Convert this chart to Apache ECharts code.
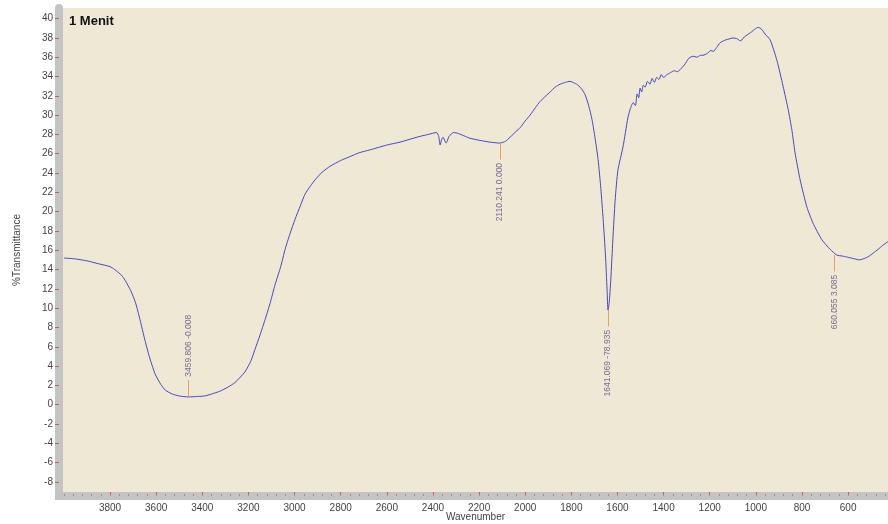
<!DOCTYPE html>
<html>
<head>
<meta charset="utf-8">
<script src="https://cdn.jsdelivr.net/npm/echarts@6/dist/echarts.min.js"></script>
<style>
html, body { margin: 0; padding: 0; background: #fff; }
#chart { width: 888px; height: 524px; }
</style>
</head>
<body>
<div id="chart"></div>
<script>
// spectrum: wavenumber (cm-1) and %T
var wavenumber = [
  4000, 3950, 3900, 3850, 3800, 3780, 3750, 3735, 3710, 3690, 3670, 3650, 3630, 3605, 3580, 3560,
  3530, 3500, 3460, 3420, 3390, 3360, 3323, 3290, 3258, 3215, 3190, 3172, 3150, 3128, 3105, 3085,
  3060, 3041, 3020, 2998, 2975, 2955, 2930, 2911, 2880, 2846, 2800, 2760, 2720, 2673, 2600, 2543,
  2500, 2456, 2420, 2385, 2375, 2369, 2362, 2356, 2348, 2343, 2330, 2310, 2290, 2260, 2239, 2200,
  2152, 2110, 2085, 2066, 2040, 2022, 2000, 1979, 1955, 1936, 1910, 1892, 1870, 1849, 1825, 1806,
  1785, 1771, 1755, 1740, 1725, 1710, 1697, 1684, 1672, 1662, 1652, 1645, 1641, 1636, 1629, 1620,
  1610, 1598, 1576, 1555, 1545, 1532, 1522, 1515, 1508, 1502, 1495, 1488, 1480, 1470, 1459, 1450,
  1440, 1430, 1420, 1410, 1400, 1385, 1370, 1355, 1340, 1329, 1310, 1290, 1272, 1255, 1240, 1229,
  1210, 1195, 1185, 1170, 1155, 1130, 1115, 1099, 1080, 1068, 1060, 1050, 1038, 1020, 1005, 990,
  975, 960, 938, 909, 882, 860, 844, 830, 808, 779, 752, 714, 678, 649, 625, 606,
  588, 570, 552, 535, 515, 491, 470, 450, 427
];
var transmittance = [
  15.2, 15.1, 14.9, 14.6, 14.3, 14.0, 13.4, 12.9, 11.8, 10.6, 8.8, 6.8, 5.0, 3.2, 2.1, 1.5,
  1.1, 0.9, 0.8, 0.85, 0.9, 1.1, 1.4, 1.8, 2.3, 3.4, 4.5, 5.7, 7.2, 8.8, 10.6, 12.4,
  14.3, 16.1, 17.7, 19.2, 20.6, 21.8, 22.7, 23.3, 24.1, 24.7, 25.3, 25.7, 26.1, 26.4, 26.9, 27.2,
  27.5, 27.8, 28.0, 28.2, 27.8, 26.9, 27.5, 27.7, 27.3, 27.1, 27.8, 28.2, 28.1, 27.8, 27.6, 27.4,
  27.2, 27.1, 27.3, 27.7, 28.3, 28.7, 29.4, 30.0, 30.8, 31.4, 32.0, 32.4, 32.9, 33.2, 33.4, 33.5,
  33.3, 33.1, 32.7, 32.1, 31.0, 29.5, 27.6, 25.4, 22.4, 19.2, 15.5, 11.9, 9.8, 10.5, 12.9, 17.1,
  21.2, 24.3, 26.7, 29.7, 30.6, 31.3, 31.0, 32.2, 31.8, 32.8, 32.4, 33.1, 32.9, 33.5, 33.2, 33.8,
  33.4, 33.9, 33.7, 34.2, 33.9, 34.2, 34.4, 34.6, 34.5, 34.7, 35.2, 35.9, 36.1, 36.0, 36.2, 36.2,
  36.4, 36.7, 36.6, 37.0, 37.5, 37.8, 37.9, 38.0, 37.9, 37.7, 37.8, 38.1, 38.3, 38.6, 38.9, 39.1,
  38.9, 38.4, 37.8, 35.7, 33.0, 30.6, 28.5, 26.1, 23.3, 20.5, 18.8, 17.1, 16.1, 15.5, 15.4, 15.3,
  15.2, 15.1, 15.0, 15.1, 15.3, 15.7, 16.1, 16.5, 16.9
];

var xTicks = [3800, 3600, 3400, 3200, 3000, 2800, 2600, 2400, 2200, 2000, 1800, 1600, 1400, 1200, 1000, 800, 600];
var yTicks = [-8, -6, -4, -2, 0, 2, 4, 6, 8, 10, 12, 14, 16, 18, 20, 22, 24, 26, 28, 30, 32, 34, 36, 38, 40];
var xMinor = [];
for (var t = 440; t <= 4000; t += 40) xMinor.push(t);

// peak picks
var peakWn = [3459.806, 2110.241, 1641.069, 660.055];
var peakT = [0.85, 27.1, 9.8, 15.5];
var peakText = ['3459.806 -0.008', '2110.241 0.000', '1641.069 -78.935', '660.055 3.085'];
var peakUp = [true, false, false, false];

var tickLen = 1.7;
var font = 'Liberation Sans';

var lineData = wavenumber.map(function (w, i) { return [w, transmittance[i]]; });

var peakLines = peakWn.map(function (w, i) {
  var end = peakUp[i] ? peakT[i] + tickLen : peakT[i] - tickLen;
  return [{ coord: [w, peakT[i]] }, { coord: [w, end] }];
});

var peakLabels = peakWn.map(function (w, i) {
  var end = peakUp[i] ? peakT[i] + tickLen + 0.35 : peakT[i] - tickLen - 0.35;
  return {
    value: [w, end],
    name: peakText[i],
    label: { align: peakUp[i] ? 'left' : 'right' }
  };
});

function plain(v) { return String(v); }

var myChart = echarts.init(document.getElementById('chart'));

var option = {
  animation: false,
  backgroundColor: '#ffffff',
  title: {
    text: '1 Menit',
    left: 64,
    top: 10,
    textStyle: { fontFamily: font, fontSize: 13, fontWeight: 'bold', color: '#111' }
  },
  grid: {
    left: 63, right: 0, top: 8, bottom: 32,
    show: true,
    backgroundColor: '#EEE8D5',
    borderWidth: 0,
    containLabel: false,
    outerBoundsMode: 'none'
  },
  xAxis: [
    {
      type: 'value',
      min: 427,
      max: 4004,
      inverse: true,
      position: 'bottom',
      offset: 4,
      axisLine: { show: true, onZero: false, lineStyle: { color: '#C4C4C4', width: 8 } },
      axisTick: { show: true, inside: true, length: 4, customValues: xTicks, lineStyle: { color: '#C85A5A' } },
      axisLabel: { customValues: xTicks, margin: 7, fontSize: 10, color: '#444', fontFamily: font, formatter: plain },
      splitLine: { show: false },
      name: 'Wavenumber',
      nameLocation: 'middle',
      nameGap: 16,
      nameMoveOverlap: false,
      nameTextStyle: { fontSize: 10, color: '#444', fontFamily: font }
    },
    {
      type: 'value',
      min: 427,
      max: 4004,
      inverse: true,
      position: 'bottom',
      offset: 4,
      axisLine: { show: false, onZero: false },
      axisTick: { show: true, inside: true, length: 2, customValues: xMinor, lineStyle: { color: '#C88080' } },
      axisLabel: { show: false },
      splitLine: { show: false }
    }
  ],
  yAxis: {
    type: 'value',
    min: -9.05,
    max: 41.1,
    offset: 4,
    axisLine: { show: true, onZero: false, lineStyle: { color: '#C4C4C4', width: 8 } },
    axisTick: { show: true, length: 4, customValues: yTicks, lineStyle: { color: '#C85A5A' } },
    axisLabel: { customValues: yTicks, margin: 6, fontSize: 10, color: '#444', fontFamily: font, formatter: plain },
    splitLine: { show: false },
    name: '%Transmittance',
    nameLocation: 'middle',
    nameGap: 37,
    nameMoveOverlap: false,
    nameTextStyle: { fontSize: 10, color: '#444', fontFamily: font }
  },
  graphic: [
    { type: 'rect', shape: { x: 55, y: 492, width: 8, height: 8 }, style: { fill: '#C4C4C4' }, silent: true }
  ],
  series: [
    {
      type: 'line',
      data: lineData,
      showSymbol: false,
      smooth: 0.2,
      lineStyle: { color: '#4848C4', width: 1 },
      markLine: {
        silent: true,
        symbol: ['none', 'none'],
        label: { show: false },
        lineStyle: { color: '#E8A060', width: 1, type: 'solid' },
        data: peakLines
      },
      z: 3
    },
    {
      type: 'scatter',
      data: peakLabels,
      symbolSize: 1,
      itemStyle: { color: 'rgba(0,0,0,0)' },
      label: {
        show: true,
        position: 'inside',
        rotate: 90,
        verticalAlign: 'middle',
        fontSize: 8.5,
        color: '#5A4C82',
        fontFamily: font,
        formatter: function (p) { return p.name; }
      },
      labelLayout: { hideOverlap: false },
      silent: true,
      z: 4
    }
  ]
};

myChart.setOption(option);
</script>
</body>
</html>
